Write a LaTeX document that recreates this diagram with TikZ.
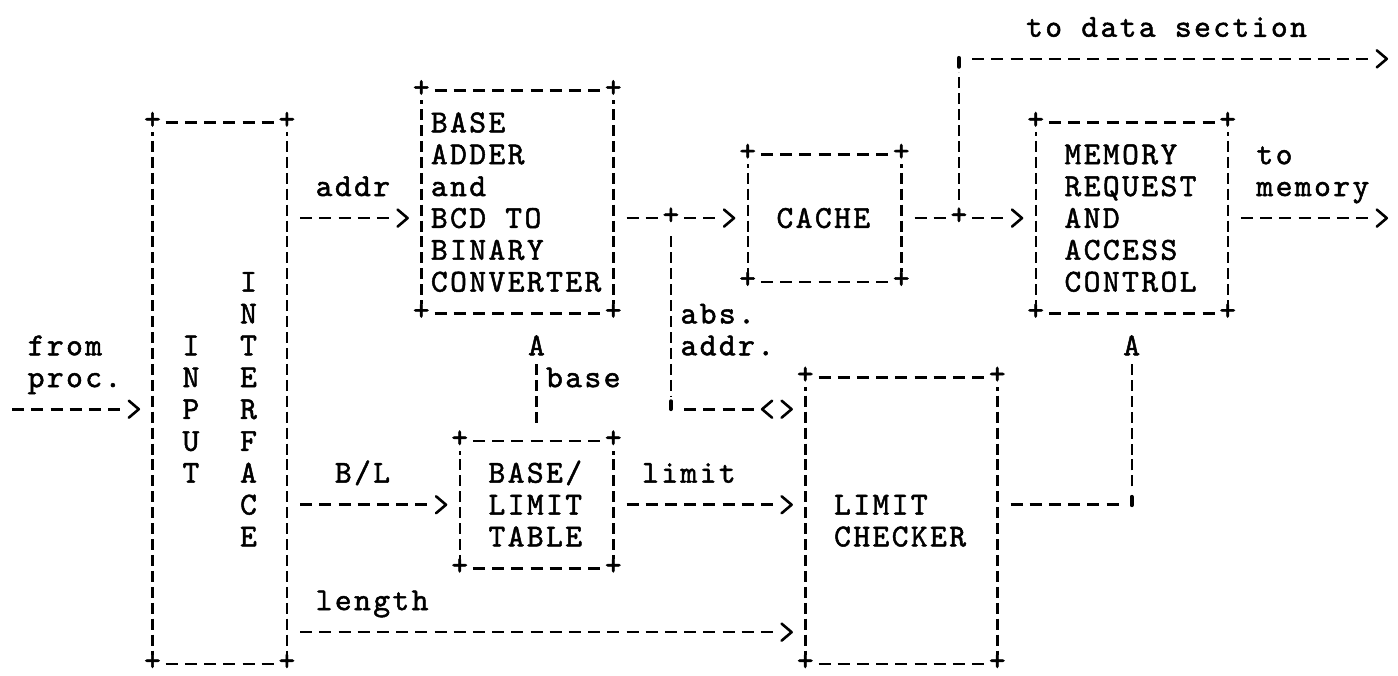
\documentclass[tikz,border=0pt]{standalone}
\usepackage{fontspec}
\newfontfamily\tw{lmmono10-regular}[Extension=.otf,LetterSpace=7.5,FakeBold=1.5]
\usetikzlibrary{arrows.meta}
\pgfdeclarearrow{
  name = GT,
  parameters = {},
  setup code = {
    \pgfarrowssettipend{0pt}
    \pgfarrowssetbackend{-11pt}
    \pgfarrowssetlineend{-17pt}
    \pgfarrowssetvisualbackend{-11pt}
    \pgfarrowssetvisualtipend{0pt}
  },
  drawing code = {
    \pgfsetdash{}{0pt}
    \pgfsetroundcap\pgfsetroundjoin
    \pgfpathmoveto{\pgfpoint{-10pt}{8.5pt}}
    \pgfpathlineto{\pgfpoint{0pt}{0pt}}
    \pgfpathlineto{\pgfpoint{-10pt}{-8.5pt}}
    \pgfusepathqstroke
  }
}
\pgfdeclarearrow{
  name = LTGT,
  parameters = {},
  setup code = {
    \pgfarrowssettipend{0pt}
    \pgfarrowssetbackend{-31pt}
    \pgfarrowssetlineend{-33pt}
    \pgfarrowssetvisualbackend{-31pt}
    \pgfarrowssetvisualtipend{0pt}
  },
  drawing code = {
    \pgfsetdash{}{0pt}
    \pgfsetroundcap\pgfsetroundjoin
    \pgfpathmoveto{\pgfpoint{-10pt}{8.5pt}}
    \pgfpathlineto{\pgfpoint{0pt}{0pt}}
    \pgfpathlineto{\pgfpoint{-10pt}{-8.5pt}}
    \pgfpathmoveto{\pgfpoint{-19.5pt}{8.5pt}}
    \pgfpathlineto{\pgfpoint{-29.5pt}{0pt}}
    \pgfpathlineto{\pgfpoint{-19.5pt}{-8.5pt}}
    \pgfusepathqstroke
  }
}
\tikzset{
  gridtext/.style={font=\tw\fontsize{32pt}{31.85pt}\selectfont, inner sep=0pt, outer sep=0pt, text height=19.55pt, text depth=0pt},
  txt/.style={gridtext, anchor=west},
  ctxt/.style={gridtext, anchor=center},
  corner/.style={gridtext, anchor=center, fill=white, text height=16pt, text depth=3pt},
  hdash/.style={line width=2.6pt, dash pattern=on 12pt off 7.2pt, dash phase=6pt},
  vdash/.style={line width=2.4pt, dash pattern=on 11pt off 4.925pt, dash phase=13.46pt},
  hconn/.style={hdash, shorten <=6pt, dash phase=12pt},
  harrow/.style={hconn, -GT, shorten >=13.7pt},
  darrow/.style={hconn, -LTGT, shorten >=13.7pt},
  vconn/.style={vdash, shorten <=13.46pt, dash phase=11pt},
  tick/.style={line width=3.8pt, line cap=round},
}
\newcommand\abox[5]{%
  \node[draw=none, inner sep=0pt, outer sep=0pt, minimum width={(#4-#2)*19.2pt}, minimum height={(#5-#3)*31.85pt}] (#1) at ({(#2+#4)/2},{(#3+#5)/2}) {};
  \draw[hdash] (#1.north west) -- (#1.north east) (#1.south west) -- (#1.south east);
  \draw[vdash] (#1.north west) -- (#1.south west) (#1.north east) -- (#1.south east);
  \foreach \a/\k in {north west/nw,north east/ne,south west/sw,south east/se}{\node[corner] (#1\k) at (#1.\a) {+};}
}
\begin{document}
\begin{tikzpicture}
\fill[white] (0pt,0pt) rectangle (1398pt,-675pt);
\path[use as bounding box] (0pt,0pt) rectangle (1398pt,-675pt);
\begin{scope}[x=19.2pt, y=-31.85pt, shift={(18.1pt,-27pt)}]
% boxes
\abox{inp}{7}{3}{14}{20}
\abox{base}{21}{2}{31}{9}
\abox{cache}{38}{4}{46}{8}
\abox{mem}{53}{3}{63}{9}
\abox{blt}{23}{13}{31}{17}
\abox{lim}{41}{11}{51}{20}
% box texts
\foreach \ch [count=\i from 0] in {I,N,P,U,T} \node[ctxt] (inpL\i) at (9,10+\i) {\ch};
\foreach \ch [count=\i from 0] in {I,N,T,E,R,F,A,C,E} \node[ctxt] (intL\i) at (12,8+\i) {\ch};
\node[txt] (bt1) at (21.5,3) {BASE};
\node[txt] (bt2) at (21.5,4) {ADDER};
\node[txt] (bt3) at (21.5,5) {and};
\node[txt] (bt4) at (21.5,6) {BCD TO};
\node[txt] (bt5) at (21.5,7) {BINARY};
\node[txt] (bt6) at (21.5,8) {CONVERTER};
\node[txt] (ct1) at (39.5,6) {CACHE};
\node[txt] (mt1) at (54.5,4) {MEMORY};
\node[txt] (mt2) at (54.5,5) {REQUEST};
\node[txt] (mt3) at (54.5,6) {AND};
\node[txt] (mt4) at (54.5,7) {ACCESS};
\node[txt] (mt5) at (54.5,8) {CONTROL};
\node[txt] (tt1) at (24.5,14) {BASE/};
\node[txt] (tt2) at (24.5,15) {LIMIT};
\node[txt] (tt3) at (24.5,16) {TABLE};
\node[txt] (lt1) at (42.5,15) {LIMIT};
\node[txt] (lt2) at (42.5,16) {CHECKER};
% labels
\node[txt] (tds) at (52.5,0) {to data section};
\node[txt] (lto) at (64.5,4) {to};
\node[txt] (lmem) at (64.5,5) {memory};
\node[txt] (lfrom) at (0.5,10) {from};
\node[txt] (lproc) at (0.5,11) {proc.};
\node[txt] (laddr) at (15.5,5) {addr};
\node[txt] (labs) at (34.5,9) {abs.};
\node[txt] (labs2) at (34.5,10) {addr.};
\node[txt] (lbase) at (27.5,11) {base};
\node[txt] (lbl) at (16.5,14) {B/L};
\node[txt] (llim) at (32.5,14) {limit};
\node[txt] (llen) at (15.5,18) {length};
% junctions, up-arrows, corners
\node[corner] (j1) at (34,6) {+};
\node[corner] (j2) at (49,6) {+};
\node[ctxt] (upA1) at (27,10) {A};
\node[ctxt] (upA2) at (58,10) {A};
\coordinate (c1) at (34,12);
\coordinate (c2) at (49,1);
\coordinate (c3) at (58,15);
\coordinate (fromp) at (-1,12);
\coordinate (datao) at (72,1);
\coordinate (memo) at (72,6);
\coordinate (lenrow) at (16,19);
% horizontal connectors
\draw[harrow] (fromp) -- (inp.west |- fromp);
\draw[harrow] (inp.east |- j1) -- (base.west |- j1);
\draw[harrow] (inp.east |- blt.west) -- (blt.west);
\draw[harrow] (inp.east |- lenrow) -- (lim.west |- lenrow);
\draw[hconn, shorten >=9pt] (base.east |- j1) -- (j1.center);
\draw[harrow] (j1.center) -- (cache.west);
\draw[hconn, shorten >=9pt] (cache.east) -- (j2.center);
\draw[harrow] (j2.center) -- (mem.west |- j2);
\draw[harrow] (mem.east |- j2) -- (memo);
\draw[harrow] (c2) -- (datao);
\draw[harrow] (blt.east) -- (lim.west |- blt.east);
\draw[darrow] (c1) -- (lim.west |- c1);
\draw[hconn, shorten >=7pt] (lim.east |- c3) -- (c3);
% vertical connectors
\draw[vconn, shorten >=12pt] (j1.center) -- (c1);
\draw[vconn, shorten >=13.46pt] (j2.center) -- (c2);
\draw[vconn, shorten >=4pt] (blt.north) -- (upA1);
\draw[vconn, shorten >=4pt] (c3) -- (upA2);
% corner ticks
\draw[tick] ([yshift=8pt]c1) -- ([yshift=0pt]c1);
\draw[tick] ([yshift=8pt]c3) -- ([yshift=-0.5pt]c3);
\draw[tick] ([yshift=1pt]c2) -- ([yshift=-8pt]c2);
\end{scope}
\end{tikzpicture}
\end{document}
